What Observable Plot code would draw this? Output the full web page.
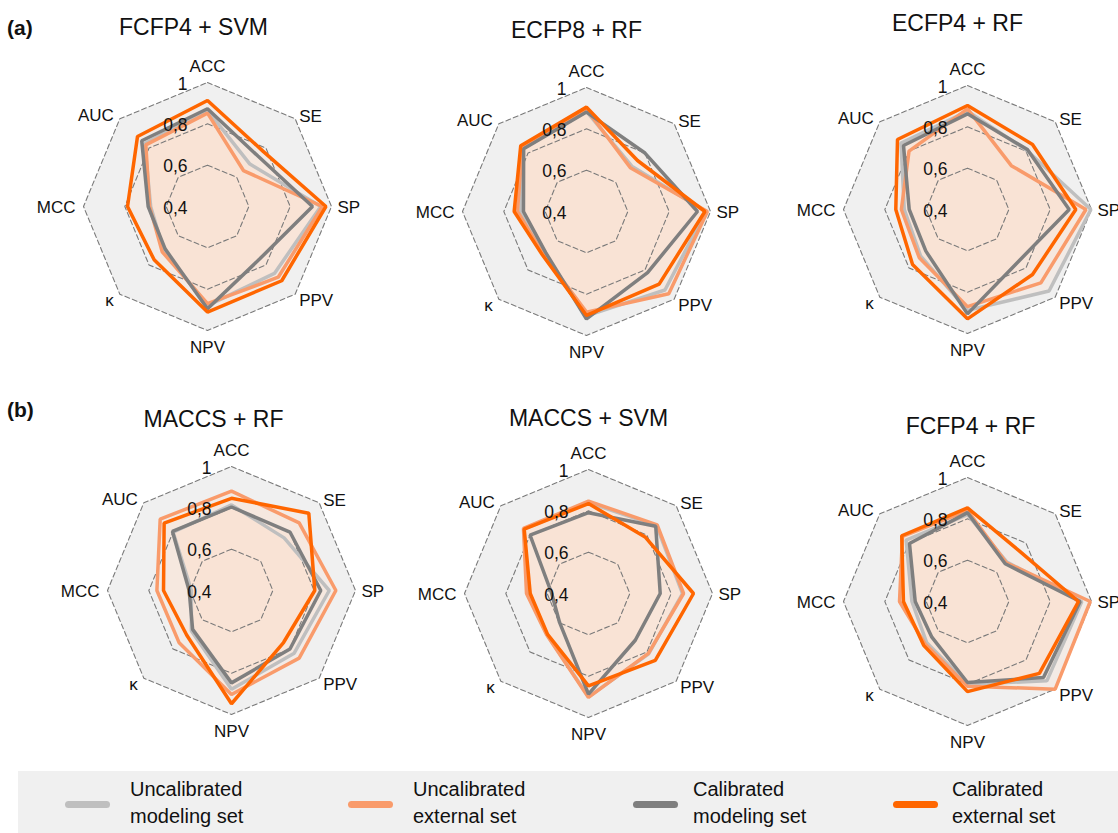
<!DOCTYPE html>
<html><head><meta charset="utf-8">
<script src="https://cdn.jsdelivr.net/npm/d3@7"></script>
<script src="https://cdn.jsdelivr.net/npm/@observablehq/plot@0.6"></script>
<style>
html,body{margin:0;padding:0;background:#fff;overflow:hidden;}
#page{position:relative;width:1118px;height:833px;overflow:hidden;font-family:"Liberation Sans",Arial,sans-serif;color:#111;}
.panel{position:absolute;}
.tag{position:absolute;font-weight:bold;font-size:21px;line-height:28px;}
#legend{position:absolute;left:18px;top:771px;width:1100px;height:62px;background:#f0f0f0;}
.sw{position:absolute;height:7px;border-radius:4px;}
.lt{position:absolute;font-size:20px;line-height:27px;white-space:nowrap;}
</style></head><body><div id="page"></div>
<script>
// ---- data ----
const axes = ["ACC", "SE", "SP", "PPV", "NPV", "κ", "MCC", "AUC"];
const series = ["Uncalibrated modeling set", "Uncalibrated external set", "Calibrated modeling set", "Calibrated external set"];
const legendLines = [["Uncalibrated", "modeling set"], ["Uncalibrated", "external set"], ["Calibrated", "modeling set"], ["Calibrated", "external set"]];
const panelTitles = ["FCFP4 + SVM", "ECFP8 + RF", "ECFP4 + RF", "MACCS + RF", "MACCS + SVM", "FCFP4 + RF"];
const ringValues = [0.6, 0.8, 1.0];
const tickValues = [1.0, 0.8, 0.6, 0.4];
const tickLabels = ["1", "0,8", "0,6", "0,4"];
const rowTags = ["(a)", "(b)"];
// values per series (rows), per axis (ACC, SE, SP, PPV, NPV, κ, MCC, AUC)
const fcfp4Svm = [
  [0.865, 0.690, 0.948, 0.858, 0.880, 0.700, 0.675, 0.830],
  [0.852, 0.646, 0.956, 0.884, 0.870, 0.710, 0.680, 0.822],
  [0.873, 0.745, 0.908, 0.758, 0.895, 0.690, 0.687, 0.850],
  [0.913, 0.779, 0.973, 0.908, 0.911, 0.765, 0.787, 0.879]
];
const ecfp8Rf = [
  [0.885, 0.710, 0.978, 0.937, 0.905, 0.690, 0.718, 0.835],
  [0.895, 0.700, 0.985, 0.963, 0.887, 0.695, 0.734, 0.840],
  [0.881, 0.800, 0.937, 0.818, 0.920, 0.680, 0.705, 0.830],
  [0.905, 0.749, 0.973, 0.897, 0.903, 0.700, 0.750, 0.850]
];
const ecfp4Rf = [
  [0.875, 0.805, 0.997, 0.958, 0.888, 0.720, 0.706, 0.855],
  [0.887, 0.700, 0.973, 0.902, 0.870, 0.730, 0.720, 0.800],
  [0.863, 0.810, 0.892, 0.752, 0.905, 0.685, 0.682, 0.838],
  [0.903, 0.845, 0.924, 0.845, 0.929, 0.776, 0.747, 0.879]
];
const maccsRf = [
  [0.814, 0.760, 0.873, 0.829, 0.878, 0.675, 0.594, 0.800],
  [0.881, 0.863, 0.905, 0.863, 0.903, 0.758, 0.761, 0.888],
  [0.804, 0.800, 0.832, 0.800, 0.847, 0.666, 0.605, 0.804],
  [0.846, 0.929, 0.803, 0.756, 0.948, 0.706, 0.729, 0.861]
];
const maccsSvm = [
  [0.840, 0.865, 0.855, 0.812, 0.900, 0.683, 0.695, 0.842],
  [0.847, 0.870, 0.860, 0.810, 0.903, 0.685, 0.700, 0.845],
  [0.791, 0.860, 0.747, 0.720, 0.887, 0.598, 0.578, 0.800],
  [0.835, 0.787, 0.908, 0.857, 0.847, 0.680, 0.682, 0.840]
];
const fcfp4Rf = [
  [0.820, 0.670, 0.953, 0.943, 0.800, 0.680, 0.669, 0.820],
  [0.840, 0.665, 0.994, 1.000, 0.810, 0.690, 0.729, 0.845],
  [0.830, 0.658, 0.945, 0.920, 0.792, 0.644, 0.653, 0.797],
  [0.853, 0.750, 0.937, 0.892, 0.836, 0.700, 0.710, 0.850]
];
const panelValues = [fcfp4Svm, ecfp8Rf, ecfp4Rf, maccsRf, maccsSvm, fcfp4Rf];

// ---- layout & style ----
const colors = ["#bfbfbf", "#f99b6b", "#7f7f7f", "#ff6600"];
const centers = [[206.7, 206], [585.7, 211], [966.7, 209], [230.7, 589.5], [588.3, 592.5], [967.3, 600.5]];
const titleOffsets = [[-14, -179], [-10, -181], [-10, -186], [-18, -171], [0, -175], [3, -175]];
const labelPlace = [
  {anchor: "middle", dx: 0, dy: -16}, {anchor: "start", dx: 4, dy: -2},
  {anchor: "start", dx: 6, dy: 1}, {anchor: "start", dx: 4, dy: 6},
  {anchor: "middle", dx: 0, dy: 17}, {anchor: "end", dx: -6, dy: 6},
  {anchor: "end", dx: -8, dy: 1}, {anchor: "end", dx: -6, dy: -3}
];
const R0 = 0.4, R1 = 1.0, PX = 124;
const W = 380, H = 370, CX = 190, CY = 205;
const font = "'Liberation Sans', Arial, sans-serif";

const ang = a => axes.indexOf(a) * Math.PI / 4;
const rr = v => (v - R0) / (R1 - R0);
const px = d => rr(d.value) * Math.sin(ang(d.axis));
const py = d => rr(d.value) * Math.cos(ang(d.axis));

function panel(title, values, toff) {
  const rows = [];
  series.forEach((s, si) => values[si].forEach((v, ai) => rows.push({series: s, axis: axes[ai], value: v})));
  const grid = [];
  ringValues.forEach(t => axes.forEach(a => grid.push({ring: t, axis: a, value: t})));
  const outer = grid.filter(d => d.ring === 1.0);
  const ticks = tickValues.map((v, i) => ({value: v, label: tickLabels[i]}));
  const labelMarks = axes.map((a, i) => Plot.text([{axis: a, value: 1.0}], {
    x: px, y: py, text: d => d.axis, textAnchor: labelPlace[i].anchor,
    dx: labelPlace[i].dx, dy: labelPlace[i].dy, fontSize: 17, fill: "#111"
  }));
  return Plot.plot({
    width: W, height: H, margin: 0,
    x: {domain: [-CX / PX, (W - CX) / PX], axis: null},
    y: {domain: [-(H - CY) / PX, CY / PX], axis: null},
    color: {domain: series, range: colors},
    style: {fontFamily: font, background: "transparent", overflow: "visible"},
    marks: [
      Plot.line(outer, {x: px, y: py, curve: "linear-closed", fill: "#f0f0f0", stroke: "none"}),
      Plot.line(rows, {x: px, y: py, z: "series", curve: "linear-closed", fill: "#ffdcc8", fillOpacity: 0.24, stroke: "none"}),
      Plot.line(grid, {x: px, y: py, z: "ring", curve: "linear-closed", stroke: "#7a7a7a", strokeWidth: 1.1, strokeDasharray: "5,3"}),
      Plot.line(rows, {x: px, y: py, z: "series", stroke: "series", curve: "linear-closed", strokeWidth: 3.5, strokeLinejoin: "miter"}),
      ...labelMarks,
      Plot.text(ticks, {x: () => 0, y: d => rr(d.value), text: "label", textAnchor: "end", dx: -20, dy: 1.5, fontSize: 17.5, fill: "#111"}),
      Plot.text([title], {frameAnchor: "top", text: d => d, dx: toff[0], dy: CY + toff[1], lineAnchor: "middle", fontSize: 23, fill: "#111"})
    ]
  });
}

const page = document.getElementById("page");
panelTitles.forEach((t, i) => {
  const el = panel(t, panelValues[i], titleOffsets[i]);
  el.classList.add("panel");
  el.style.left = (centers[i][0] - CX) + "px";
  el.style.top = (centers[i][1] - CY) + "px";
  page.appendChild(el);
});
const tagTops = [14, 396];
rowTags.forEach((t, i) => {
  const d = document.createElement("div");
  d.className = "tag"; d.textContent = t;
  d.style.left = "7px"; d.style.top = tagTops[i] + "px";
  page.appendChild(d);
});
// legend
const legend = document.createElement("div");
legend.id = "legend";
page.appendChild(legend);
const swX = [65, 348, 633, 893], txX = [130, 413, 693, 952];
series.forEach((s, i) => {
  const sw = document.createElement("div");
  sw.className = "sw";
  sw.style.left = (swX[i] - 18) + "px"; sw.style.width = "45px";
  sw.style.top = (804 - 771 - 3.5) + "px";
  sw.style.background = colors[i];
  legend.appendChild(sw);
  const tx = document.createElement("div");
  tx.className = "lt";
  tx.style.left = (txX[i] - 18) + "px"; tx.style.top = (776 - 771) + "px";
  tx.innerHTML = legendLines[i][0] + "<br>" + legendLines[i][1];
  legend.appendChild(tx);
});
</script></body></html>
